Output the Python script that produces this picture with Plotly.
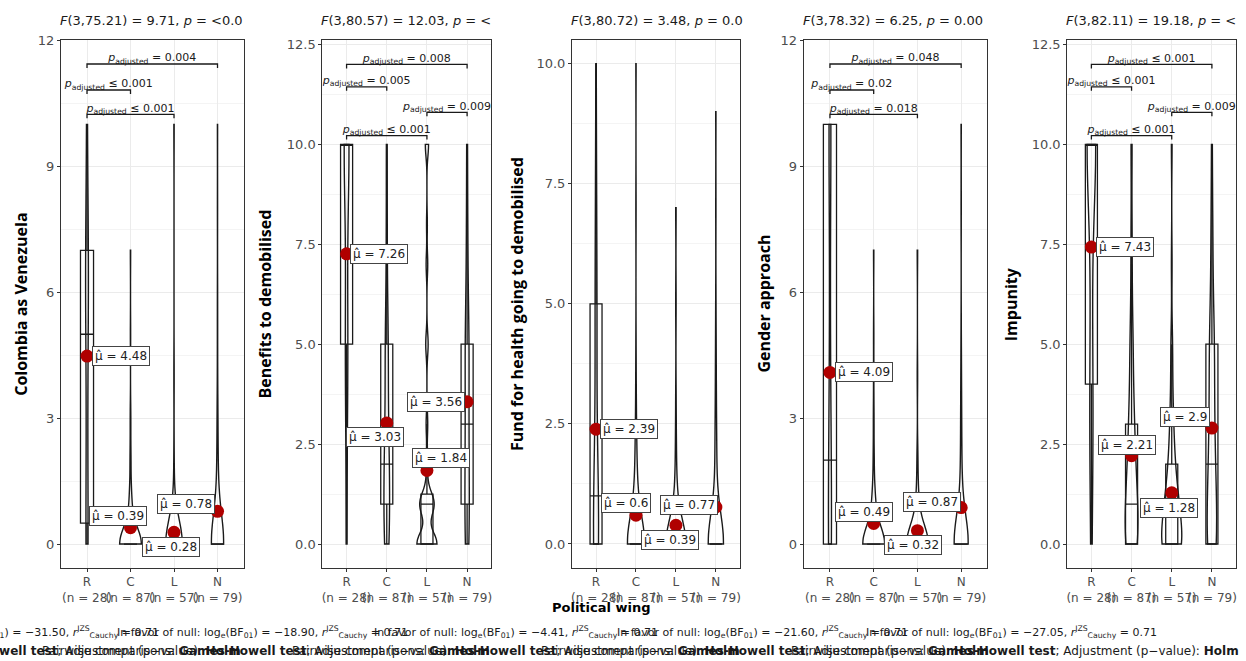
import numpy as np
import plotly.graph_objects as go

# ---------------- data ----------------
score_levels = list(range(11))            # answers 0..10
groups = ["R", "C", "L", "N"]
group_n = [28, 87, 57, 79]
outcomes = ["Colombia as Venezuela", "Benefits to demobilised",
            "Fund for health going to demobilised", "Gender approach", "Impunity"]

# frequency of each answer 0..10, per group (R, C, L, N)
counts_colombia = [[7, 1, 1, 2, 1, 3, 3, 6, 1, 0, 3],
                   [72, 8, 3, 2, 0, 1, 0, 1, 0, 0, 0],
                   [52, 2, 1, 0, 1, 0, 0, 0, 0, 0, 1],
                   [60, 7, 4, 3, 1, 1, 1, 0, 1, 0, 1]]
counts_benefits = [[2, 0, 1, 1, 2, 4, 1, 2, 0, 0, 15],
                   [16, 16, 15, 8, 6, 12, 3, 3, 3, 1, 4],
                   [25, 18, 2, 2, 0, 3, 0, 2, 1, 0, 4],
                   [12, 12, 8, 10, 6, 14, 4, 4, 4, 1, 4]]
counts_fund = [[12, 4, 2, 1, 1, 4, 0, 2, 1, 0, 1],
               [66, 11, 5, 2, 1, 0, 0, 1, 0, 0, 1],
               [47, 5, 2, 1, 0, 1, 0, 1, 0, 0, 0],
               [60, 6, 5, 3, 2, 1, 0, 1, 0, 1, 0]]
counts_gender = [[10, 1, 4, 1, 1, 1, 1, 0, 1, 0, 8],
                 [69, 10, 3, 2, 1, 1, 0, 1, 0, 0, 0],
                 [48, 5, 2, 0, 1, 0, 0, 1, 0, 0, 0],
                 [60, 7, 4, 3, 2, 1, 0, 0, 1, 0, 1]]
counts_impunity = [[2, 0, 1, 4, 0, 2, 1, 1, 0, 0, 17],
                   [25, 20, 12, 10, 5, 6, 2, 2, 2, 0, 3],
                   [25, 15, 7, 4, 2, 2, 0, 1, 0, 0, 1],
                   [21, 12, 10, 8, 6, 10, 3, 3, 3, 1, 2]]

means_colombia = [4.48, 0.39, 0.28, 0.78]
means_benefits = [7.26, 3.03, 1.84, 3.56]
means_fund = [2.39, 0.6, 0.39, 0.77]
means_gender = [4.09, 0.49, 0.32, 0.87]
means_impunity = [7.43, 2.21, 1.28, 2.9]

pairs_colombia = [("R", "N", "= 0.004"), ("R", "C", "≤ 0.001"), ("R", "L", "≤ 0.001")]
pairs_benefits = [("R", "N", "= 0.008"), ("R", "C", "= 0.005"), ("L", "N", "= 0.009"), ("R", "L", "≤ 0.001")]
pairs_fund = []
pairs_gender = [("R", "N", "= 0.048"), ("R", "C", "= 0.02"), ("R", "L", "= 0.018")]
pairs_impunity = [("R", "N", "≤ 0.001"), ("R", "C", "≤ 0.001"), ("L", "N", "= 0.009"), ("R", "L", "≤ 0.001")]

welch_df2 = [75.21, 80.57, 80.72, 78.32, 82.11]
welch_F = [9.71, 12.03, 3.48, 6.25, 19.18]
welch_p_visible = ["&lt;0.0", "&lt;", "0.0", "0.00", "&lt;"]
log_bf01 = [-31.50, -18.90, -4.41, -21.60, -27.05]
r_cauchy = 0.71

# ---------------- style ----------------
W, H = 1246, 661
panel_left = [60, 322, 572, 804, 1068]
panel_right = [243, 491, 740, 988, 1237]
plot_top, plot_bottom = 33, 567
y_ranges = [[-0.57, 12.02], [-0.6, 12.62], [-0.5, 10.5], [-0.57, 12.02], [-0.6, 12.62]]
y_dticks = [3, 2.5, 2.5, 3, 2.5]
y_formats = ["d", ".1f", ".1f", "d", ".1f"]
bracket_levels = [[11.44, 10.82, 10.24], [12.0, 11.44, 10.8, 10.22], [],
                  [11.44, 10.82, 10.24], [12.0, 11.44, 10.8, 10.22]]
label_shifts = [[(34, 0), (-13, 12), (-3, -15), (-32, 7)],
                [(32, 0), (-12, -14), (14, 12), (-31, 0)],
                [(33, 0), (-10, 12), (-6, -15), (-27, 2)],
                [(34, 0), (-10, 12), (-4, -14), (-29, 6)],
                [(34, 0), (-5, 11), (-3, -15), (-27, 11)]]
ytitle_x = [20, 264, 517, 764, 1011]
TICKFONT = dict(family="DejaVu Sans", size=12, color="#4d4d4d")
MEAN_RED = "#b00000"
INK = "#1a1a1a"

panels = [(counts_colombia, means_colombia, pairs_colombia),
          (counts_benefits, means_benefits, pairs_benefits),
          (counts_fund, means_fund, pairs_fund),
          (counts_gender, means_gender, pairs_gender),
          (counts_impunity, means_impunity, pairs_impunity)]


def nrd0(x):
    hi = np.std(x, ddof=1)
    q75, q25 = np.percentile(x, [75, 25])
    lo = min(hi, (q75 - q25) / 1.34)
    if not lo:
        lo = hi or abs(x[0]) or 1.0
    return 0.9 * lo * len(x) ** -0.2


def kde_peak(x, bw):
    grid = np.linspace(x.min(), x.max(), 512)
    d = np.exp(-0.5 * ((grid[:, None] - x[None, :]) / bw) ** 2).sum(1)
    return (d / (len(x) * bw * np.sqrt(2 * np.pi))).max()


fig = go.Figure()
annotations = []
layout_axes = {}
ydom = [(H - plot_bottom) / H, (H - plot_top) / H]

for k, (counts, means, pairs) in enumerate(panels):
    sfx = "" if k == 0 else str(k + 1)
    xa, ya = "x" + sfx, "y" + sfx
    samples = [np.repeat(score_levels, c).astype(float) for c in counts]
    bws = [nrd0(s) for s in samples]
    peaks = [kde_peak(s, b) for s, b in zip(samples, bws)]
    pmax = max(peaks)
    px_per_unit = (plot_bottom - plot_top) / (y_ranges[k][1] - y_ranges[k][0])

    for gi, s in enumerate(samples):
        fig.add_trace(go.Violin(
            x=np.full(len(s), gi), y=s, xaxis=xa, yaxis=ya, orientation="v",
            width=0.5 * peaks[gi] / pmax, bandwidth=bws[gi], spanmode="hard",
            scalemode="width", points=False, box_visible=False, meanline_visible=False,
            line=dict(color=INK, width=1.4), fillcolor="rgba(255,255,255,0.2)",
            hoverinfo="skip", showlegend=False))
        fig.add_trace(go.Box(
            x=np.full(len(s), gi), y=s, xaxis=xa, yaxis=ya, orientation="v",
            width=0.3, boxpoints="outliers", quartilemethod="linear",
            marker=dict(opacity=0, size=1), whiskerwidth=0,
            line=dict(color=INK, width=1.3), fillcolor="rgba(255,255,255,0)",
            hoverinfo="skip", showlegend=False))

    fig.add_trace(go.Scatter(
        x=list(range(len(groups))), y=means, xaxis=xa, yaxis=ya, mode="markers",
        marker=dict(color=MEAN_RED, size=13), hoverinfo="skip", showlegend=False))

    for gi, m in enumerate(means):
        dx, dy = label_shifts[k][gi]
        annotations.append(dict(
            xref=xa, yref=ya, x=gi, y=m, xshift=dx, yshift=dy, showarrow=False,
            text=f"μ̂ = {m:g}", font=dict(family="DejaVu Sans", size=12, color="#222"),
            bgcolor="white", bordercolor="#444", borderwidth=1, borderpad=2))

    tip = 4 / px_per_unit
    for (g1, g2, lab), lvl in zip(pairs, bracket_levels[k]):
        a, b = groups.index(g1), groups.index(g2)
        fig.add_trace(go.Scatter(
            x=[a, a, b, b], y=[lvl - tip, lvl, lvl, lvl - tip], xaxis=xa, yaxis=ya,
            mode="lines", line=dict(color=INK, width=1.3),
            hoverinfo="skip", showlegend=False))
        fig.add_trace(go.Scatter(
            x=[(a + b) / 2], y=[lvl], xaxis=xa, yaxis=ya, mode="text",
            text=[f"<i>p</i><sub>adjusted</sub> {lab}"], textposition="top center",
            textfont=dict(family="DejaVu Sans", size=11, color=INK),
            cliponaxis=True, hoverinfo="skip", showlegend=False))

    layout_axes["xaxis" + sfx] = dict(
        domain=[panel_left[k] / W, panel_right[k] / W], anchor=ya,
        range=[-0.6, 3.6], tickmode="array", tickvals=list(range(len(groups))),
        ticktext=[f"{g}<br>(n = {n})" for g, n in zip(groups, group_n)],
        tickangle=0, tickfont=TICKFONT, ticks="outside", ticklen=3, tickcolor="#333",
        showline=True, mirror=True, linecolor="#333", linewidth=1.2,
        showgrid=True, gridcolor="#ebebeb", zeroline=False, fixedrange=True)
    layout_axes["yaxis" + sfx] = dict(
        domain=ydom, anchor=xa, range=y_ranges[k], tick0=0, dtick=y_dticks[k],
        tickformat=y_formats[k], tickfont=dict(TICKFONT, size=13), ticks="outside",
        ticklen=3, tickcolor="#333", showline=True, mirror=True, linecolor="#333",
        linewidth=1.2, showgrid=True, gridcolor="#ebebeb", zeroline=False, fixedrange=True,
        minor=dict(dtick=y_dticks[k] / 2, showgrid=True, gridcolor="#f4f4f4"))

    # subtitle (Welch ANOVA)
    annotations.append(dict(
        xref="paper", yref="paper", x=(panel_left[k] - 3) / W, y=1 - 14 / H,
        xanchor="left", yanchor="middle", showarrow=False,
        text=f"<i>F</i>(3,{welch_df2[k]:.2f}) = {welch_F[k]:.2f}, <i>p</i> = {welch_p_visible[k]}",
        font=dict(family="DejaVu Sans", size=13, color=INK)))
    # y title
    annotations.append(dict(
        xref="paper", yref="paper", x=ytitle_x[k] / W, y=1 - ((plot_top + plot_bottom) / 2) / H,
        xanchor="center", yanchor="middle", showarrow=False, textangle=-90,
        text=f"<b>{outcomes[k]}</b>", font=dict(family="Open Sans", size=16, color="black")))
    # captions (two lines, overlapping as in the original layout)
    bf_txt = f"{log_bf01[k]:.2f}".replace("-", "−")
    annotations.append(dict(
        xref="paper", yref="paper", x=(1160 - 250 * (4 - k)) / W, y=1 - 632 / H,
        xanchor="right", yanchor="middle", showarrow=False,
        text=(f"In favor of null: log<sub>e</sub>(BF<sub>01</sub>) = {bf_txt}, "
              f"<i>r</i><sup>JZS</sup><sub>Cauchy</sub> = {r_cauchy:.2f}"),
        font=dict(family="DejaVu Sans", size=11, color=INK)))
    annotations.append(dict(
        xref="paper", yref="paper", x=(1242 - 250 * (4 - k)) / W, y=1 - 651 / H,
        xanchor="right", yanchor="middle", showarrow=False,
        text="Pairwise comparisons: <b>Games-Howell test</b>; Adjustment (p−value): <b>Holm</b>",
        font=dict(family="DejaVu Sans", size=12, color=INK)))

annotations.append(dict(
    xref="paper", yref="paper", x=601 / W, y=1 - 607 / H, xanchor="center", yanchor="middle",
    showarrow=False, text="<b>Political wing</b>",
    font=dict(family="DejaVu Sans", size=13, color="black")))

fig.update_layout(
    width=W, height=H, margin=dict(l=0, r=0, t=0, b=0),
    paper_bgcolor="white", plot_bgcolor="white",
    violinmode="overlay", boxmode="overlay", showlegend=False,
    annotations=annotations, **layout_axes)

fig.write_html("out.html", config={"displayModeBar": False})
with open("out.html", encoding="utf-8") as f:
    html = f.read()
html = html.replace("<head>", "<head><style>html,body{margin:0;padding:0;overflow:hidden}</style>", 1)
with open("out.html", "w", encoding="utf-8") as f:
    f.write(html)
